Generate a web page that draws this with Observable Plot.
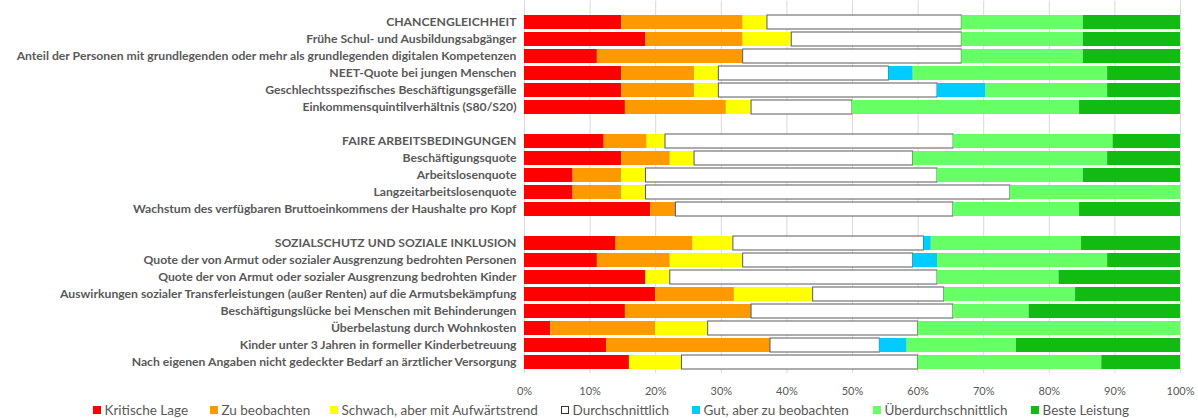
<!DOCTYPE html>
<html><head><meta charset="utf-8">
<script src="https://cdn.jsdelivr.net/npm/d3@7"></script>
<script src="https://cdn.jsdelivr.net/npm/@observablehq/plot@0.6"></script>
<style>
body{margin:0;background:#fff;font-family:Lato,"Liberation Sans",sans-serif;}
#chart svg{display:block;}
#legend{position:relative;height:18px;font-size:13.5px;color:#595959;}
#legend .item{position:absolute;top:1px;height:18px;display:flex;align-items:center;white-space:nowrap;}
#legend .sw{width:7.5px;height:7.5px;margin-right:4px;box-sizing:border-box;}
</style></head><body>
<div id="chart"></div>
<div id="legend"></div>
<script>
const categories = ["Kritische Lage","Zu beobachten","Schwach, aber mit Aufwärtstrend","Durchschnittlich","Gut, aber zu beobachten","Überdurchschnittlich","Beste Leistung"];
const colors = ["#ff0000","#ff9900","#ffff00","#ffffff","#00ccff","#66ff66","#11bb11"];
const rows = [
  "CHANCENGLEICHHEIT",
  "Frühe Schul- und Ausbildungsabgänger",
  "Anteil der Personen mit grundlegenden oder mehr als grundlegenden digitalen Kompetenzen",
  "NEET-Quote bei jungen Menschen",
  "Geschlechtsspezifisches Beschäftigungsgefälle",
  "Einkommensquintilverhältnis (S80/S20)",
  "_gap1",
  "FAIRE ARBEITSBEDINGUNGEN",
  "Beschäftigungsquote",
  "Arbeitslosenquote",
  "Langzeitarbeitslosenquote",
  "Wachstum des verfügbaren Bruttoeinkommens der Haushalte pro Kopf",
  "_gap2",
  "SOZIALSCHUTZ UND SOZIALE INKLUSION",
  "Quote der von Armut oder sozialer Ausgrenzung bedrohten Personen",
  "Quote der von Armut oder sozialer Ausgrenzung bedrohten Kinder",
  "Auswirkungen sozialer Transferleistungen (außer Renten) auf die Armutsbekämpfung",
  "Beschäftigungslücke bei Menschen mit Behinderungen",
  "Überbelastung durch Wohnkosten",
  "Kinder unter 3 Jahren in formeller Kinderbetreuung",
  "Nach eigenen Angaben nicht gedeckter Bedarf an ärztlicher Versorgung"
];
// counts of member states per category (row order as above; null = spacer row)
const kritischeLage      = [4,5,3,4,4,4,null,13,4,2,2,5,null,25,3,5,5,4,1,3,4];
const zuBeobachten       = [5,4,6,3,3,4,null,7,2,2,2,1,null,21,3,0,3,5,4,6,0];
const schwachAufwaerts   = [1,2,0,1,1,1,null,3,1,1,1,0,null,11,3,1,3,0,2,0,2];
const durchschnittlich   = [8,7,9,7,9,4,null,47,9,12,15,11,null,52,7,11,5,8,8,4,9];
const gutZuBeobachten    = [0,0,0,1,2,0,null,0,0,0,0,0,null,2,1,0,0,0,0,1,0];
const ueberdurchschnittl = [5,5,5,8,5,9,null,26,8,6,7,5,null,41,7,5,5,3,10,4,7];
const besteLeistung      = [4,4,4,3,3,4,null,11,3,4,0,4,null,27,3,5,4,6,0,6,3];
const xTicks = [0,0.1,0.2,0.3,0.4,0.5,0.6,0.7,0.8,0.9,1];

const series = [kritischeLage,zuBeobachten,schwachAufwaerts,durchschnittlich,gutZuBeobachten,ueberdurchschnittl,besteLeistung];
const table = [];
rows.forEach((r,i) => {
  if (series[0][i] == null) return;
  categories.forEach((c,j) => table.push({row:r, cat:c, value:series[j][i]}));
});

const chart = Plot.plot({
  width:1198, height:400,
  marginLeft:524, marginRight:18, marginTop:10.6, marginBottom:27.1,
  style:{fontFamily:"Lato, 'Liberation Sans', sans-serif", fontSize:"12px", color:"#595959", background:"#fff"},
  x:{domain:[0,1], axis:null},
  y:{domain:rows, padding:0.16, axis:null},
  color:{domain:categories, range:colors},
  marks:[
    Plot.ruleX(xTicks, {x:d=>d, stroke:"#d9d9d9", insetTop:-10}),
    Plot.barX(table, Plot.stackX({offset:"normalize", x:"value", y:"row", fill:"cat",
      stroke:d => d.cat === "Durchschnittlich" ? "#5a5a5a" : "none", strokeWidth:1})),
    Plot.axisX({ticks:xTicks, tickFormat:d3.format(".0%"), tickSize:0, tickPadding:14, fill:"#595959", fontSize:11, label:null}),
    Plot.axisY({tickSize:0, tickPadding:8, fontWeight:"bold", fill:"#595959", fontSize:12.2, label:null,
      tickFormat:d => d.startsWith("_") ? "" : d})
  ]
});
document.getElementById("chart").appendChild(chart);

const legendX = [93,210,330,561,692,873,1031];
const legend = document.getElementById("legend");
categories.forEach((c,j) => {
  const item = document.createElement("div"); item.className = "item";
  item.style.left = legendX[j] + "px";
  const sw = document.createElement("span"); sw.className = "sw";
  sw.style.background = colors[j];
  if (colors[j] === "#ffffff") sw.style.border = "1px solid #333";
  item.appendChild(sw);
  item.appendChild(document.createTextNode(c));
  legend.appendChild(item);
});
</script>
</body></html>
